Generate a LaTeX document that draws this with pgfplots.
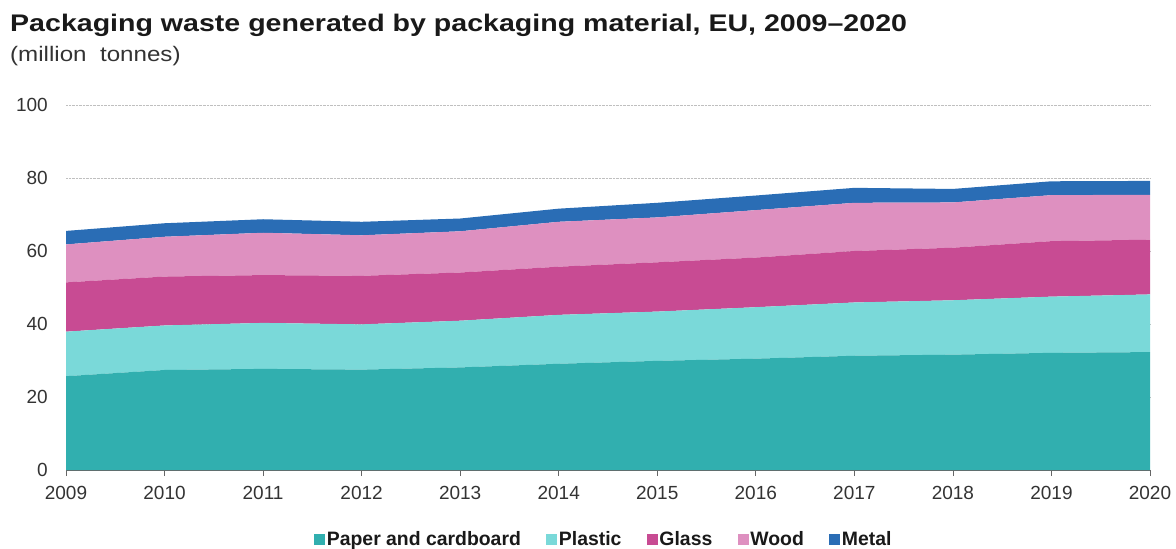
\documentclass[border=0pt]{standalone}
\usepackage{fontspec}
\setmainfont{Liberation Sans}
\usepackage{pgfplots}
\pgfplotsset{compat=1.18}

\definecolor{paper}{HTML}{31AFAF}
\definecolor{plastic}{HTML}{7AD9D9}
\definecolor{glass}{HTML}{C84B93}
\definecolor{wood}{HTML}{DE90C0}
\definecolor{metal}{HTML}{2A6DB5}
\definecolor{txt}{HTML}{333333}

\begin{document}
\begin{tikzpicture}
\useasboundingbox (-66bp,-79bp) rectangle (1110bp,470bp);

% title and unit, set a little wide as in the original
\node[anchor=base west, inner sep=0pt, text=black!90] at (-56bp,438bp)
  {\scalebox{1.19}[1]{\fontsize{24bp}{28bp}\selectfont\bfseries Packaging waste generated by packaging material, EU, 2009--2020}};
\node[anchor=base west, inner sep=0pt, text=txt] at (-56bp,408bp)
  {\scalebox{1.15}[1]{\fontsize{21bp}{24bp}\selectfont (million\ \ tonnes)}};

\begin{axis}[
    scale only axis,
    width=1084bp, height=365bp,
    xmin=2009, xmax=2020,
    ymin=0, ymax=100,
    xtick={2009,2010,...,2020},
    ytick={0,20,...,100},
    stack plots=y,
    axis lines*=left,
    y axis line style={draw=none},
    x axis line style={draw=black!60, line width=1pt},
    ytick style={draw=none},
    xtick style={draw=black!60, line width=0.8pt},
    tick align=outside,
    major tick length=6bp,
    ymajorgrids,
    grid style={densely dotted, draw=black!25, line width=0.6pt},
    /pgf/number format/assume math mode=true,
    /pgf/number format/1000 sep={},
    tick label style={font=\fontsize{19bp}{22bp}\selectfont, text=txt},
    yticklabel style={inner sep=0pt, xshift=-12bp},
    xticklabel style={inner sep=0pt, yshift=-10bp},
    legend style={at={(0.496,-0.19)}, anchor=center, draw=none, fill=none,
      legend columns=-1, text=black!90, nodes={inner sep=1.5bp},
      font=\fontsize{19.4bp}{21bp}\selectfont\bfseries,
      /tikz/every even column/.append style={column sep=24bp}},
    legend image code/.code={\fill[#1] (0bp,-5.5bp) rectangle (11bp,5.5bp);},
]
\addplot[fill=paper, draw=none] coordinates {
 (2009,25.7) (2010,27.4) (2011,27.7) (2012,27.5) (2013,28.1) (2014,29.1)
 (2015,29.9) (2016,30.5) (2017,31.3) (2018,31.6) (2019,32.1) (2020,32.3)
} \closedcycle;
\addlegendentry{Paper and cardboard}
\addplot[fill=plastic, draw=none] coordinates {
 (2009,12.2) (2010,12.2) (2011,12.6) (2012,12.4) (2013,12.8) (2014,13.4)
 (2015,13.5) (2016,14.1) (2017,14.6) (2018,14.9) (2019,15.4) (2020,15.8)
} \closedcycle;
\addlegendentry{Plastic}
\addplot[fill=glass, draw=none] coordinates {
 (2009,13.5) (2010,13.4) (2011,13.1) (2012,13.3) (2013,13.2) (2014,13.2)
 (2015,13.5) (2016,13.6) (2017,14.1) (2018,14.4) (2019,15.2) (2020,15.0)
} \closedcycle;
\addlegendentry{Glass}
\addplot[fill=wood, draw=none] coordinates {
 (2009,10.4) (2010,10.9) (2011,11.6) (2012,11.1) (2013,11.3) (2014,12.3)
 (2015,12.3) (2016,13.0) (2017,13.2) (2018,12.4) (2019,12.6) (2020,12.3)
} \closedcycle;
\addlegendentry{Wood}
\addplot[fill=metal, draw=none] coordinates {
 (2009,3.7) (2010,3.7) (2011,3.7) (2012,3.7) (2013,3.5) (2014,3.6)
 (2015,4.0) (2016,4.0) (2017,4.1) (2018,3.7) (2019,3.8) (2020,3.8)
} \closedcycle;
\addlegendentry{Metal}
\end{axis}
\end{tikzpicture}
\end{document}
